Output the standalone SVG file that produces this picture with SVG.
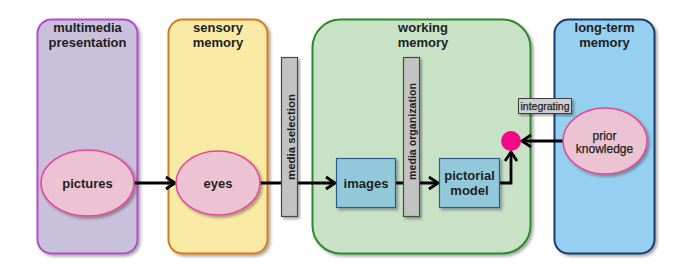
<svg xmlns="http://www.w3.org/2000/svg" width="681" height="275" viewBox="0 0 681 275">
<defs>
<filter id="sh" x="-20%" y="-20%" width="140%" height="140%">
<feDropShadow dx="2" dy="2" stdDeviation="1.5" flood-color="#000" flood-opacity="0.35"/>
</filter>
<marker id="arr" markerUnits="userSpaceOnUse" markerWidth="14" markerHeight="16" viewBox="0 0 14 16" refX="11" refY="8" orient="auto">
<path d="M2,2 L11,8 L2,14" fill="none" stroke="#000" stroke-width="2.8" stroke-linejoin="miter"/>
</marker>
<style>
.t{font-family:"Liberation Sans",Arial,sans-serif;font-weight:bold;fill:#1e1e1e;text-anchor:middle}
.r{font-weight:normal;stroke:#1e1e1e;stroke-width:0.25}
.h{font-size:13px}
.ell{fill:#ecc3d3;stroke:#e6479a;stroke-width:1.5;filter:url(#sh)}
.box{fill:#92c9da;stroke:#2b5d8e;stroke-width:1.2;filter:url(#sh)}
.bar{fill:#c3c3c3;stroke:#4a4a4a;stroke-width:1.2;filter:url(#sh)}
.ln{fill:none;stroke:#000;stroke-width:2.8}
</style>
</defs>
<rect width="681" height="275" fill="#fff"/>
<g id="multimedia">
<rect x="37.5" y="19.5" width="100" height="234" rx="14" fill="#c9c0dc" stroke="#b44bc6" stroke-width="2" filter="url(#sh)"/>
<text class="t h" x="87.5" y="32">multimedia</text>
<text class="t h" x="87.5" y="47">presentation</text>
</g>
<g id="sensory">
<rect x="168.5" y="19.5" width="99" height="234" rx="14" fill="#f9eaa5" stroke="#d8781c" stroke-width="2" filter="url(#sh)"/>
<text class="t h" x="218" y="32">sensory</text>
<text class="t h" x="218" y="47">memory</text>
</g>
<g id="working">
<rect x="312.5" y="19.5" width="218" height="234" rx="28" fill="#c8e2c6" stroke="#2a8a2a" stroke-width="2" filter="url(#sh)"/>
<text class="t h" x="423" y="32">working</text>
<text class="t h" x="423" y="47">memory</text>
</g>
<g id="longterm">
<rect x="554.5" y="19.5" width="100" height="234" rx="14" fill="#95d0f0" stroke="#1b3b6c" stroke-width="2" filter="url(#sh)"/>
<text class="t h" x="604.5" y="32">long-term</text>
<text class="t h" x="604.5" y="47">memory</text>
</g>
<g id="connectors">
<line class="ln" x1="134" y1="183" x2="175" y2="183" marker-end="url(#arr)"/>
<line class="ln" x1="260" y1="183" x2="335" y2="183" marker-end="url(#arr)"/>
<line class="ln" x1="396" y1="183" x2="438" y2="183" marker-end="url(#arr)"/>
<polyline class="ln" points="500,183 511,183 511,152" marker-end="url(#arr)"/>
<line class="ln" x1="563" y1="141" x2="522" y2="141" marker-end="url(#arr)"/>
</g>
<g id="pictures">
<ellipse class="ell" cx="87.5" cy="183" rx="46.5" ry="33"/>
<text class="t h" x="87.5" y="188">pictures</text>
</g>
<g id="eyes">
<ellipse class="ell" cx="218" cy="183" rx="42" ry="32"/>
<text class="t h" x="218" y="188">eyes</text>
</g>
<g id="media-selection">
<rect class="bar" x="281.5" y="57.5" width="16" height="159"/>
<text class="t" font-size="11" text-anchor="start" textLength="86" lengthAdjust="spacingAndGlyphs" transform="translate(295 180) rotate(-90)" x="0" y="0" style="text-anchor:start">media selection</text>
</g>
<g id="images">
<rect class="box" x="336.5" y="158.5" width="59" height="49"/>
<text class="t h" x="366" y="188">images</text>
</g>
<g id="media-organization">
<rect class="bar" x="403.5" y="57.5" width="16" height="159"/>
<text class="t" font-size="10.5" textLength="97" lengthAdjust="spacingAndGlyphs" transform="translate(415.5 180) rotate(-90)" x="0" y="0" style="text-anchor:start">media organization</text>
</g>
<g id="pictorial">
<rect class="box" x="439.5" y="158.5" width="60" height="49"/>
<text class="t h" x="469.5" y="180">pictorial</text>
<text class="t h" x="469.5" y="195">model</text>
</g>
<g id="integration-point">
<circle cx="511" cy="141" r="10" fill="#f5078a"/>
</g>
<g id="integrating">
<rect x="518.5" y="98.5" width="53" height="15" fill="#cfcfcf" stroke="#3c3c3c" stroke-width="1" filter="url(#sh)"/>
<text class="t r" font-size="10.5" x="545" y="110">integrating</text>
</g>
<g id="prior">
<ellipse class="ell" cx="605" cy="141" rx="42" ry="33"/>
<text class="t r" font-size="12" x="604.5" y="140">prior</text>
<text class="t r" font-size="12" x="604.5" y="153">knowledge</text>
</g>
</svg>
